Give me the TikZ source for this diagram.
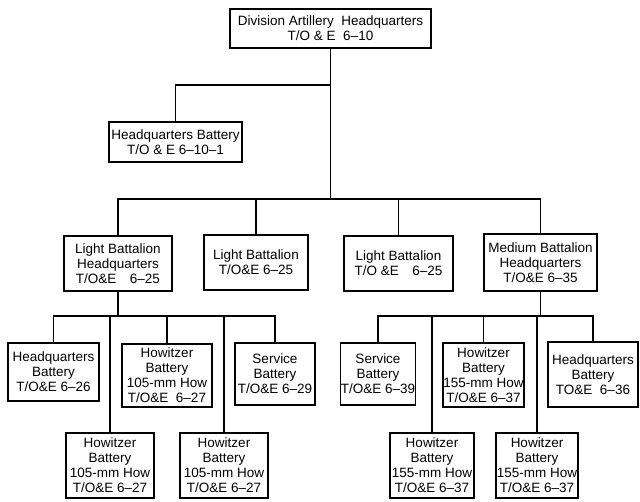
\documentclass[tikz,border=0pt]{standalone}
\usepackage{fontspec}
\setmainfont{Liberation Sans}
\begin{document}
\begin{tikzpicture}[x=1pt,y=-1pt,
  box/.style={draw,line width=1.3pt,inner sep=0.3pt,align=center,
    font=\fontsize{13.5}{15}\selectfont},
  link/.style={line width=1.1pt}]
\useasboundingbox (0,0) rectangle (640,501);
% top
\node[box,minimum width=201,minimum height=39] (top) at (330.5,28.5) {Division Artillery\ \ Headquarters\\T/O \& E\ \ 6--10};
\node[box,minimum width=133,minimum height=40] (hqb) at (175.5,142) {Headquarters Battery\\T/O \& E 6--10--1};
% level 2
\node[box,minimum width=108,minimum height=55] (lbhq) at (118,263.5) {Light Battalion\\Headquarters\\T/O\&E\quad 6--25};
\node[box,minimum width=104,minimum height=55] (lb2) at (256,262.5) {Light Battalion\\T/O\&E 6--25};
\node[box,minimum width=109,minimum height=55] (lb3) at (398.5,263.5) {Light Battalion\\T/O \&E\quad 6--25};
\node[box,minimum width=113,minimum height=57] (mbhq) at (540.5,262.5) {Medium Battalion\\Headquarters\\T/O\&E 6--35};
% level 3 left
\node[box,minimum width=91,minimum height=58] (hqbL) at (53.5,372) {Headquarters\\Battery\\T/O\&E 6--26};
\node[box,minimum width=90,minimum height=63] (howL) at (167,375.5) {Howitzer\\Battery\\105-mm How\\T/O\&E\ \ 6--27};
\node[box,minimum width=80,minimum height=62] (servL) at (275,374) {Service\\Battery\\T/O\&E 6--29};
\node[box,minimum width=88,minimum height=65] (howLa) at (110,465.5) {Howitzer\\Battery\\105-mm How\\T/O\&E 6--27};
\node[box,minimum width=88,minimum height=65] (howLb) at (224,465.5) {Howitzer\\Battery\\105-mm How\\T/O\&E 6--27};
% level 3 right
\node[box,minimum width=74,minimum height=62] (servR) at (378,374) {Service\\Battery\\T/O\&E 6--39};
\node[box,minimum width=81,minimum height=64] (howR) at (483.5,375) {Howitzer\\Battery\\155-mm How\\T/O\&E 6--37};
\node[box,minimum width=90,minimum height=65] (hqbR) at (593,374.5) {Headquarters\\Battery\\TO\&E\ \ 6--36};
\node[box,minimum width=84,minimum height=65] (howRa) at (432,465.5) {Howitzer\\Battery\\155-mm How\\T/O\&E 6--37};
\node[box,minimum width=82,minimum height=65] (howRb) at (537,465.5) {Howitzer\\Battery\\155-mm How\\T/O\&E 6--37};
% junctions
\coordinate (j0) at (330.5,85);
\coordinate (j1) at (330.5,199);
\coordinate (j2) at (118,316);
\coordinate (j3) at (540.5,316);
% connectors
\draw[link] (top.south) -- (j1);
\draw[link] (j0) -| (hqb.north);
\draw[link] (lbhq.north) |- (mbhq.north |- j1) -- (mbhq.north);
\draw[link] (lb2.north) -- (lb2.north |- j1);
\draw[link] (lb3.north) -- (lb3.north |- j1);
\draw[link] (lbhq.south) -- (j2);
\draw[link] (hqbL.north) |- (servL.north |- j2) -- (servL.north);
\draw[link] (howL.north) -- (howL.north |- j2);
\draw[link] (howLa.north) -- (howLa.north |- j2);
\draw[link] (howLb.north) -- (howLb.north |- j2);
\draw[link] (mbhq.south) -- (j3);
\draw[link] (servR.north) |- (hqbR.north |- j3) -- (hqbR.north);
\draw[link] (howR.north) -- (howR.north |- j3);
\draw[link] (howRa.north) -- (howRa.north |- j3);
\draw[link] (howRb.north) -- (howRb.north |- j3);
\end{tikzpicture}
\end{document}
